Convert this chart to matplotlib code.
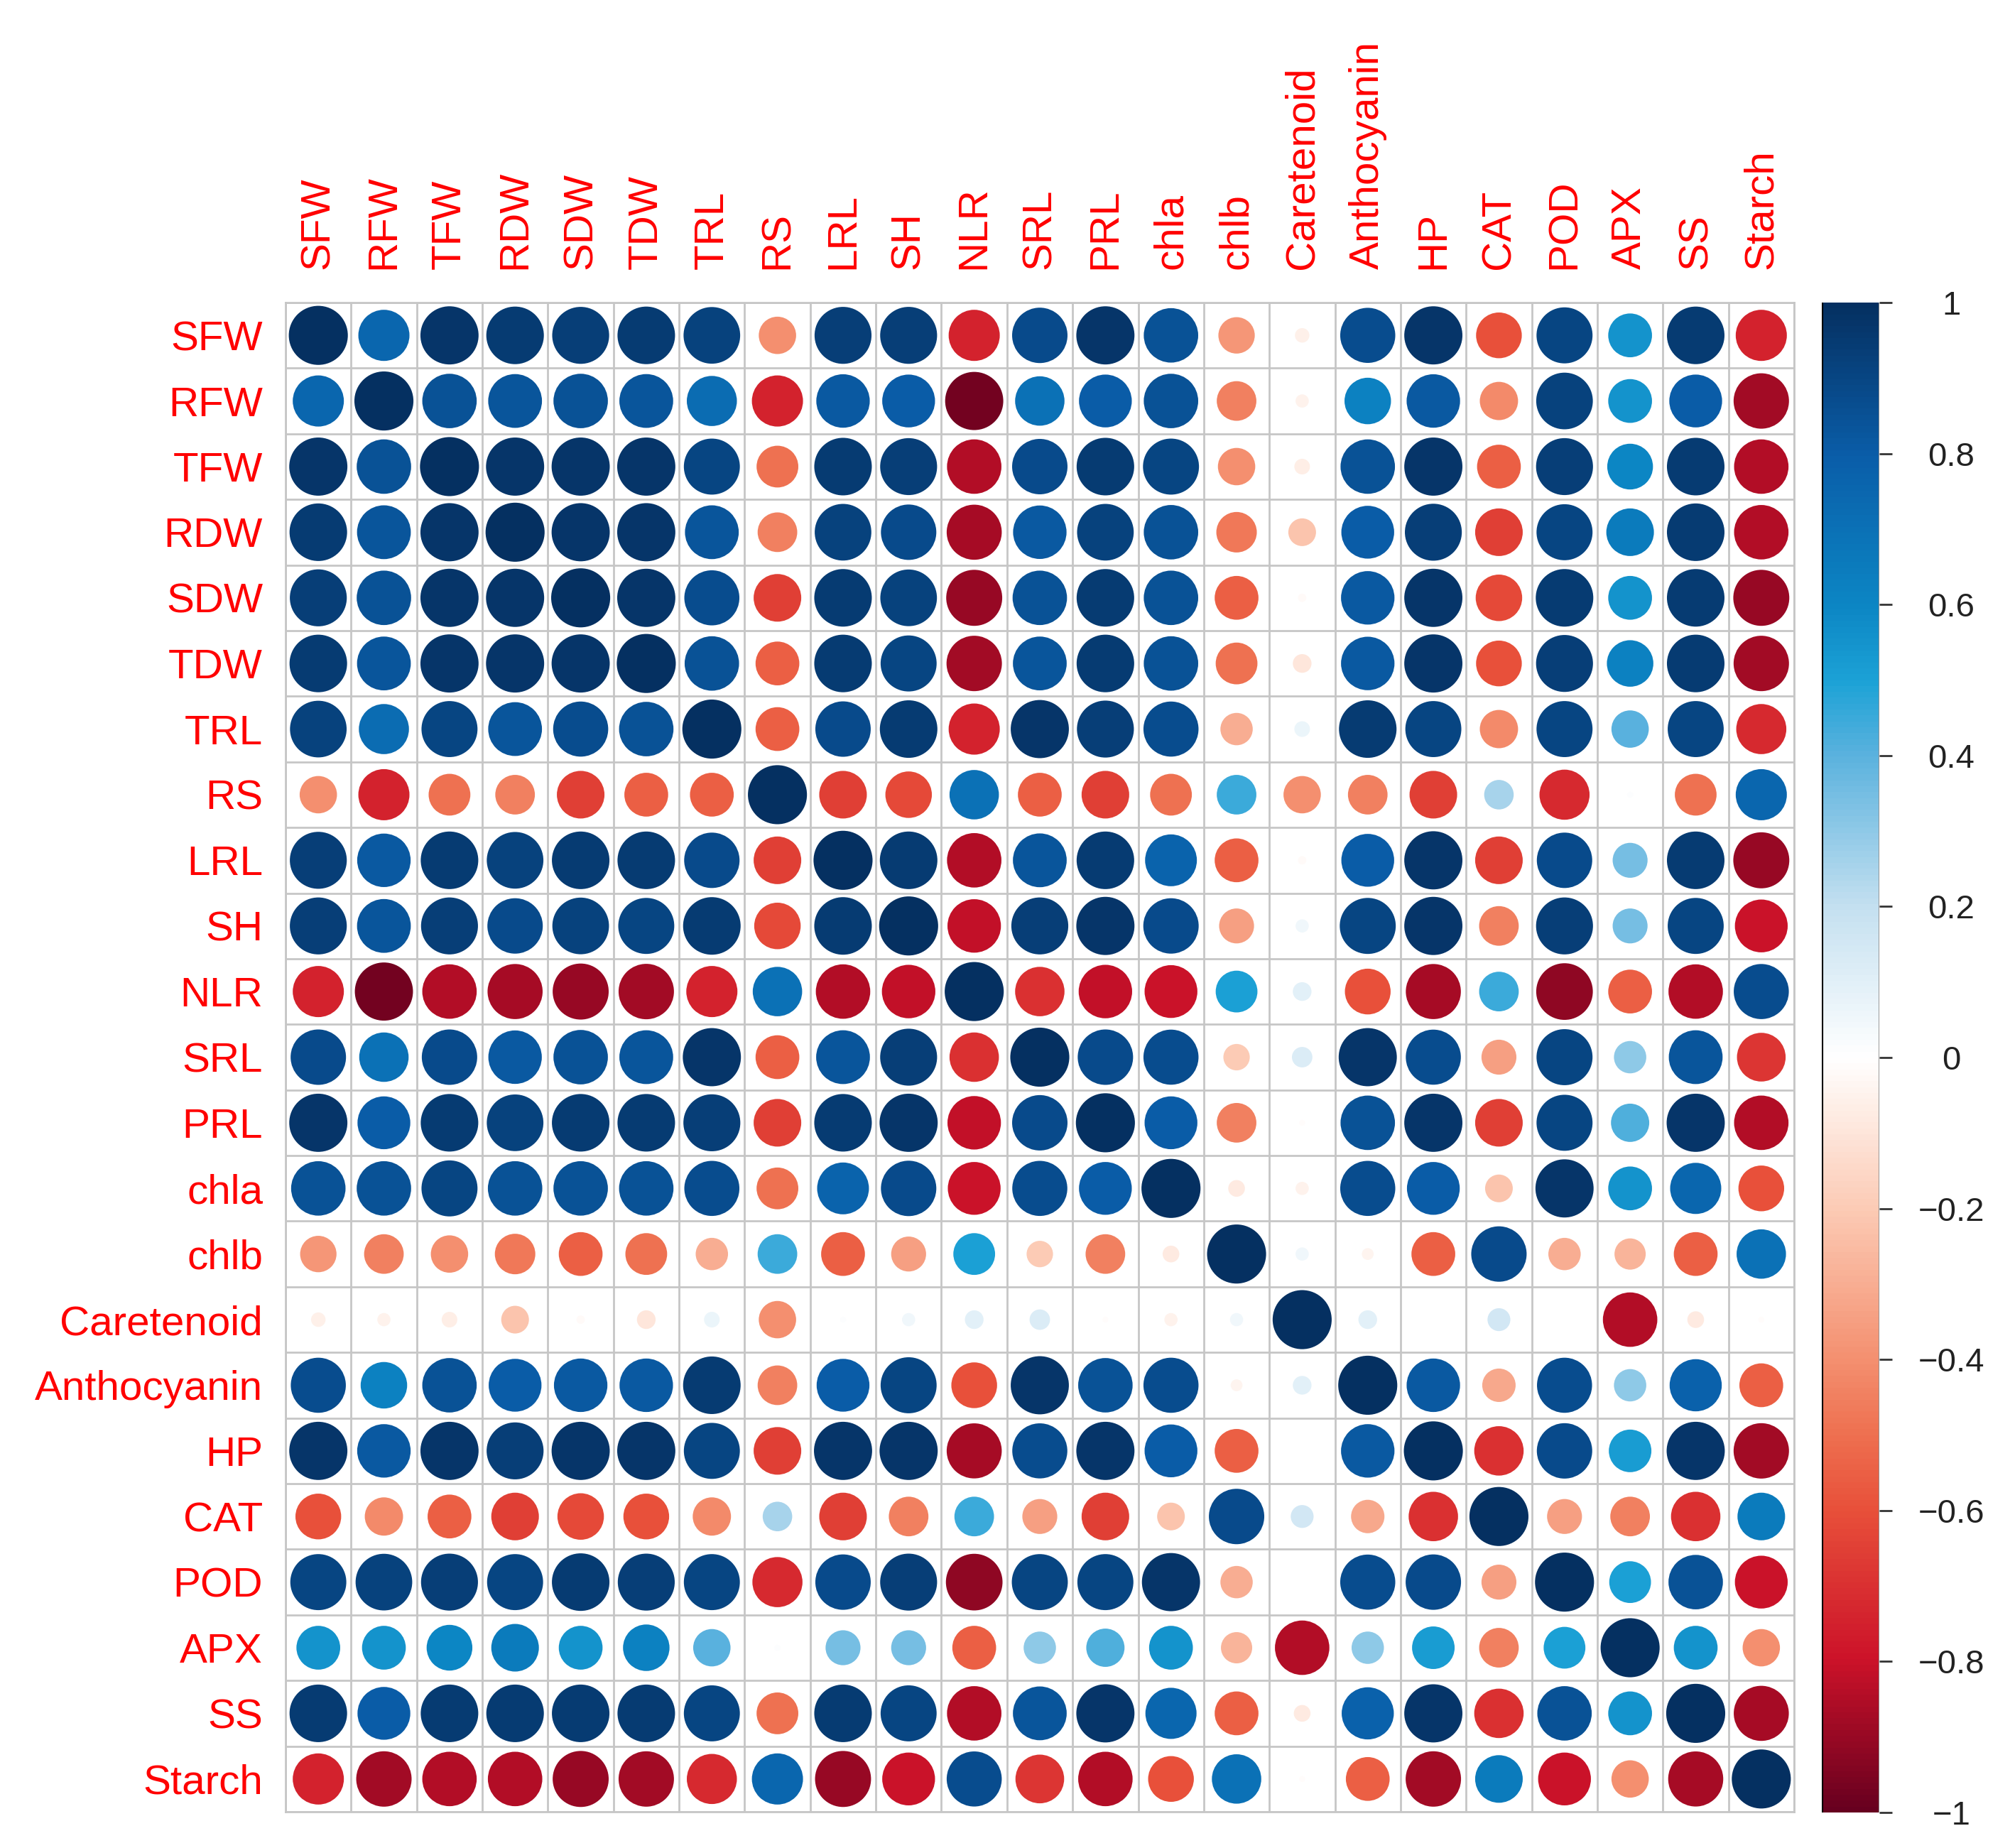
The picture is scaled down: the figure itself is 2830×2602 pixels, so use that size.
import numpy as np
import matplotlib.pyplot as plt
from matplotlib.colors import LinearSegmentedColormap, Normalize
from matplotlib.patches import Circle
from matplotlib.collections import PatchCollection
from matplotlib.cm import ScalarMappable

plt.rcParams['font.family'] = ['Liberation Sans', 'DejaVu Sans']

labels = ['SFW', 'RFW', 'TFW', 'RDW', 'SDW', 'TDW', 'TRL', 'RS', 'LRL', 'SH', 'NLR',
          'SRL', 'PRL', 'chla', 'chlb', 'Caretenoid', 'Anthocyanin', 'HP', 'CAT',
          'POD', 'APX', 'SS', 'Starch']

# correlation matrix (rows in label order)
corr = np.array([
    [1.00, 0.75, 0.97, 0.95, 0.93, 0.95, 0.92, -0.40, 0.93, 0.93, -0.75, 0.88, 0.97, 0.85, -0.38, -0.06, 0.87, 0.97, -0.60, 0.90, 0.55, 0.95, -0.75],
    [0.75, 1.00, 0.85, 0.83, 0.85, 0.83, 0.72, -0.75, 0.82, 0.80, -0.97, 0.70, 0.80, 0.85, -0.45, -0.05, 0.62, 0.82, -0.42, 0.92, 0.55, 0.80, -0.88],
    [0.97, 0.85, 1.00, 0.97, 0.97, 0.97, 0.90, -0.50, 0.95, 0.93, -0.85, 0.88, 0.95, 0.90, -0.40, -0.07, 0.85, 0.97, -0.55, 0.93, 0.60, 0.95, -0.85],
    [0.95, 0.83, 0.97, 1.00, 0.97, 0.97, 0.83, -0.45, 0.92, 0.88, -0.87, 0.82, 0.92, 0.85, -0.47, -0.22, 0.80, 0.93, -0.65, 0.90, 0.65, 0.95, -0.85],
    [0.93, 0.85, 0.97, 0.97, 1.00, 0.97, 0.87, -0.65, 0.95, 0.92, -0.90, 0.85, 0.95, 0.85, -0.55, -0.02, 0.82, 0.97, -0.62, 0.95, 0.55, 0.95, -0.90],
    [0.95, 0.83, 0.97, 0.97, 0.97, 1.00, 0.85, -0.55, 0.95, 0.90, -0.88, 0.83, 0.95, 0.85, -0.50, -0.10, 0.82, 0.97, -0.60, 0.93, 0.62, 0.95, -0.88],
    [0.92, 0.72, 0.90, 0.83, 0.87, 0.85, 1.00, -0.55, 0.88, 0.95, -0.75, 0.97, 0.93, 0.87, -0.30, 0.07, 0.95, 0.90, -0.42, 0.90, 0.40, 0.90, -0.72],
    [-0.40, -0.75, -0.50, -0.45, -0.65, -0.55, -0.55, 1.00, -0.65, -0.62, 0.70, -0.55, -0.65, -0.50, 0.45, -0.40, -0.45, -0.65, 0.25, -0.72, 0.01, -0.50, 0.75],
    [0.93, 0.82, 0.95, 0.92, 0.95, 0.95, 0.88, -0.65, 1.00, 0.95, -0.85, 0.83, 0.95, 0.77, -0.55, -0.02, 0.80, 0.97, -0.65, 0.88, 0.35, 0.95, -0.90],
    [0.93, 0.83, 0.93, 0.88, 0.92, 0.90, 0.95, -0.62, 0.95, 1.00, -0.82, 0.93, 0.97, 0.88, -0.35, 0.05, 0.90, 0.97, -0.45, 0.93, 0.35, 0.90, -0.80],
    [-0.75, -0.97, -0.85, -0.87, -0.90, -0.88, -0.75, 0.70, -0.85, -0.82, 1.00, -0.70, -0.82, -0.80, 0.50, 0.10, -0.60, -0.87, 0.45, -0.92, -0.55, -0.85, 0.87],
    [0.88, 0.70, 0.88, 0.82, 0.85, 0.83, 0.97, -0.55, 0.83, 0.93, -0.70, 1.00, 0.88, 0.87, -0.20, 0.12, 0.97, 0.87, -0.35, 0.90, 0.30, 0.83, -0.68],
    [0.97, 0.80, 0.95, 0.92, 0.95, 0.95, 0.93, -0.65, 0.95, 0.97, -0.82, 0.88, 1.00, 0.80, -0.45, -0.01, 0.85, 0.97, -0.65, 0.90, 0.42, 0.97, -0.85],
    [0.85, 0.85, 0.90, 0.85, 0.85, 0.85, 0.87, -0.50, 0.77, 0.88, -0.80, 0.87, 0.80, 1.00, -0.08, -0.05, 0.87, 0.80, -0.22, 0.97, 0.55, 0.75, -0.60],
    [-0.38, -0.45, -0.40, -0.47, -0.55, -0.50, -0.30, 0.45, -0.55, -0.35, 0.50, -0.20, -0.45, -0.08, 1.00, 0.05, -0.04, -0.55, 0.88, -0.30, -0.28, -0.55, 0.70],
    [-0.06, -0.05, -0.07, -0.22, -0.02, -0.10, 0.07, -0.40, 0.01, 0.05, 0.10, 0.12, -0.01, -0.05, 0.05, 1.00, 0.10, 0.00, 0.15, 0.00, -0.85, -0.08, -0.01],
    [0.87, 0.62, 0.85, 0.80, 0.82, 0.82, 0.95, -0.45, 0.80, 0.90, -0.60, 0.97, 0.85, 0.87, -0.04, 0.10, 1.00, 0.82, -0.32, 0.87, 0.30, 0.78, -0.55],
    [0.97, 0.82, 0.97, 0.93, 0.97, 0.97, 0.90, -0.65, 0.97, 0.97, -0.87, 0.87, 0.97, 0.80, -0.55, 0.00, 0.82, 1.00, -0.70, 0.88, 0.52, 0.97, -0.88],
    [-0.60, -0.42, -0.55, -0.65, -0.62, -0.60, -0.42, 0.25, -0.65, -0.45, 0.45, -0.35, -0.65, -0.22, 0.88, 0.15, -0.32, -0.70, 1.00, -0.35, -0.45, -0.70, 0.65],
    [0.90, 0.92, 0.93, 0.90, 0.95, 0.93, 0.90, -0.72, 0.88, 0.93, -0.92, 0.90, 0.90, 0.97, -0.30, 0.00, 0.87, 0.88, -0.35, 1.00, 0.50, 0.85, -0.80],
    [0.55, 0.55, 0.60, 0.65, 0.55, 0.62, 0.40, 0.01, 0.35, 0.35, -0.55, 0.30, 0.42, 0.55, -0.28, -0.85, 0.30, 0.52, -0.45, 0.50, 1.00, 0.55, -0.40],
    [0.95, 0.80, 0.95, 0.95, 0.95, 0.95, 0.90, -0.50, 0.95, 0.90, -0.85, 0.83, 0.97, 0.75, -0.55, -0.08, 0.78, 0.97, -0.70, 0.85, 0.55, 1.00, -0.87],
    [-0.75, -0.88, -0.85, -0.85, -0.90, -0.88, -0.72, 0.75, -0.90, -0.80, 0.87, -0.68, -0.85, -0.60, 0.70, -0.01, -0.55, -0.88, 0.65, -0.80, -0.40, -0.87, 1.00],
])

bar_ticks = [-1, -0.8, -0.6, -0.4, -0.2, 0, 0.2, 0.4, 0.6, 0.8, 1]
bar_labels = ['\u22121', '\u22120.8', '\u22120.6', '\u22120.4', '\u22120.2', '0',
              '0.2', '0.4', '0.6', '0.8', '1']

# colour stops sampled from the colour bar and the circles
stops = [-1, -0.8, -0.6, -0.5, -0.4, -0.2, 0, 0.2, 0.4, 0.5, 0.6, 0.8, 1]
stop_colors = ['#67001F', '#CC1229', '#E8503A', '#EE7050', '#F49070', '#FCCBB5', '#FFFFFF',
               '#C4E0F0', '#5BB2DE', '#1CA2D6', '#0C86C4', '#0A5DA8', '#053061']
cmap = LinearSegmentedColormap.from_list(
    'corr', list(zip([(s + 1) / 2 for s in stops], stop_colors)), N=256)
norm = Normalize(-1, 1)

W, H = 2830, 2602
fig = plt.figure(figsize=(W / 100, H / 100), dpi=100, facecolor='white')
ax = fig.add_axes([402 / W, 1 - 2551 / H, 2124 / W, 2125 / H])

n = len(labels)
circles = []
vals = []
for i in range(n):
    for j in range(n):
        r = corr[i, j]
        circles.append(Circle((j + 0.5, i + 0.5), 0.45 * np.sqrt(abs(r))))
        vals.append(r)
pc = PatchCollection(circles, cmap=cmap, norm=norm, edgecolor='none', zorder=3)
pc.set_array(np.array(vals))
ax.add_collection(pc)

ax.set_xlim(0, n)
ax.set_ylim(n, 0)
ax.set_xticks(np.arange(n + 1), minor=True)
ax.set_yticks(np.arange(n + 1), minor=True)
ax.grid(which='minor', color='#c6c6c6', lw=2, zorder=1)
ax.set_axisbelow(True)
for s in ax.spines.values():
    s.set_color('#c6c6c6')
    s.set_linewidth(2)

ax.xaxis.tick_top()
ax.set_xticks(np.arange(n) + 0.5, labels, rotation=90, color='red', fontsize=42)
ax.set_yticks(np.arange(n) + 0.5, labels, color='red', fontsize=42)
ax.tick_params(which='both', length=0)
ax.tick_params(axis='x', which='major', pad=34)
ax.tick_params(axis='y', which='major', pad=23)

# colour bar
cax = fig.add_axes([2565 / W, 1 - 2552 / H, 81 / W, 2126 / H])
cb = fig.colorbar(ScalarMappable(norm=norm, cmap=cmap), cax=cax, ticks=bar_ticks)
cb.ax.set_yticklabels(bar_labels)
cb.outline.set_visible(False)
cax.axvline(0, color='black', lw=3)
cax.axvline(1, color='#909090', lw=2)
cax.tick_params(length=13, width=2, color='#333333', labelsize=34,
                labelcolor='#222222', pad=60)
for t in cax.get_yticklabels():
    t.set_ha('center')

fig.savefig('out.png', dpi=100, facecolor='white')
